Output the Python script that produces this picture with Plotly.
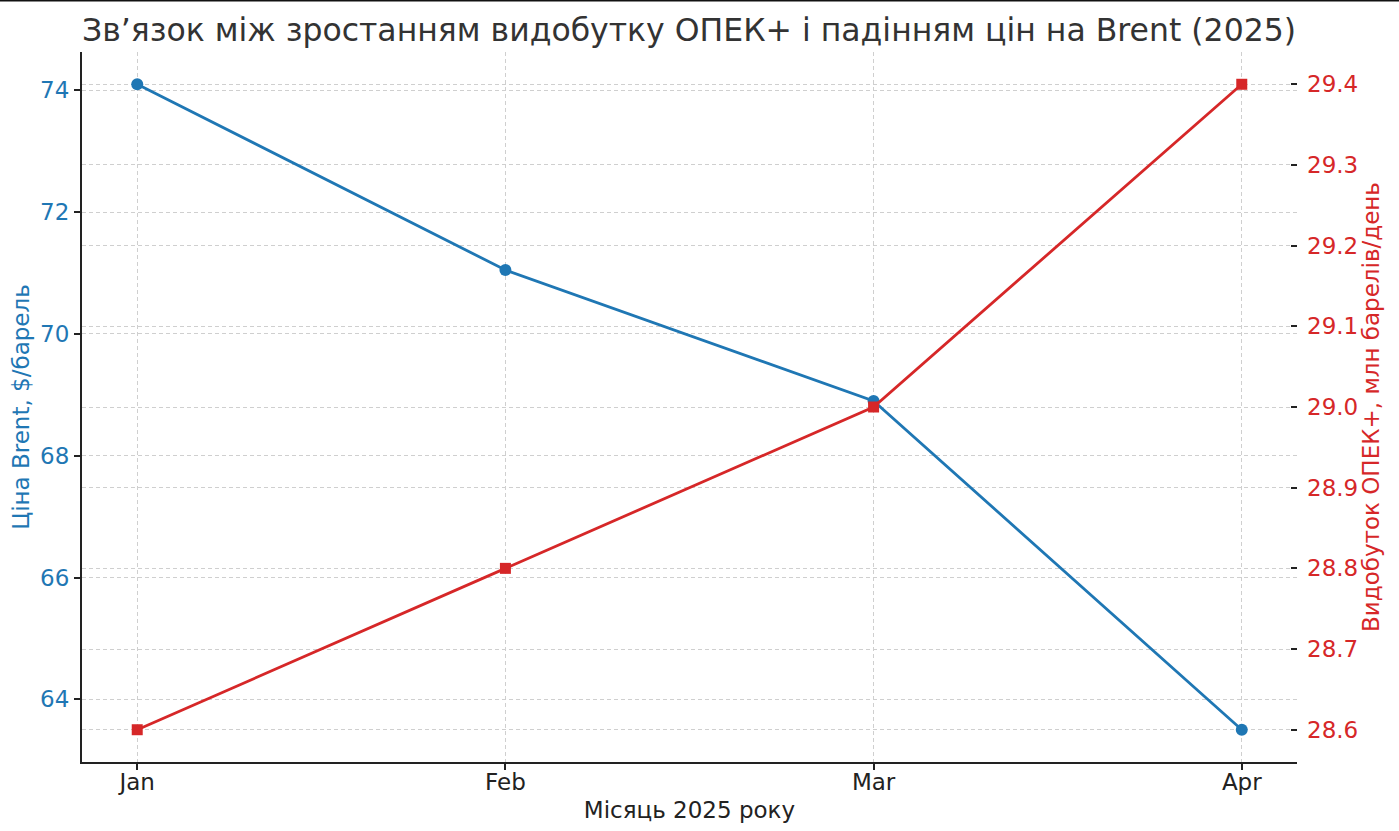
import plotly.graph_objects as go

months = ["Jan", "Feb", "Mar", "Apr"]
brent = [74.1, 71.05, 68.9, 63.5]
opec = [28.6, 28.8, 29.0, 29.4]
left_ticks = [64, 66, 68, 70, 72, 74]
right_ticks = [28.6, 28.7, 28.8, 28.9, 29.0, 29.1, 29.2, 29.3, 29.4]

BLUE = "#1f77b4"
RED = "#d62728"
FONT = "DejaVu Sans"

fig = go.Figure()
fig.add_trace(go.Scatter(
    x=list(range(len(months))), y=brent, mode="lines+markers",
    line=dict(color=BLUE, width=2.8),
    marker=dict(symbol="circle", size=12, color=BLUE),
    yaxis="y", showlegend=False,
))
fig.add_trace(go.Scatter(
    x=list(range(len(months))), y=opec, mode="lines+markers",
    line=dict(color=RED, width=2.8),
    marker=dict(symbol="square", size=11, color=RED),
    yaxis="y2", showlegend=False,
))

grid = dict(showgrid=True, gridcolor="#cfcfcf", gridwidth=1, griddash="4px,3px")

fig.update_layout(
    width=1399, height=831,
    margin=dict(l=82, r=102, t=52, b=69, autoexpand=False),
    paper_bgcolor="white", plot_bgcolor="white",
    font=dict(family=FONT, size=23, color="#222222"),
    title=dict(
        text="Зв’язок між зростанням видобутку ОПЕК+ і падінням цін на Brent (2025)",
        x=82 / 1399, xanchor="left", y=1 - 30 / 831, yanchor="middle",
        font=dict(family=FONT, size=31.5, color="#333333"),
    ),
    xaxis=dict(
        range=[-0.15, 3.15], tickmode="array",
        tickvals=list(range(len(months))), ticktext=months,
        ticks="outside", ticklen=6, tickwidth=1.5, tickcolor="#222222",
        ticklabelstandoff=-8,
        showline=True, linecolor="#222222", linewidth=2, mirror=False,
        zeroline=False, automargin=False,
        tickfont=dict(size=23, color="#222222"),
        title=dict(text="Місяць 2025 року", font=dict(size=23, color="#222222"), standoff=8),
        **grid,
    ),
    yaxis=dict(
        range=[62.97, 74.63], tickmode="array", tickvals=left_ticks,
        ticks="outside", ticklen=6, tickwidth=1.5, tickcolor="#222222",
        showline=True, linecolor="#222222", linewidth=2,
        zeroline=False, automargin=False,
        tickfont=dict(size=23, color=BLUE),
        title=dict(text="Ціна Brent, $/барель", font=dict(size=23, color=BLUE), standoff=4),
        **grid,
    ),
    yaxis2=dict(
        range=[28.56, 29.44], tickmode="array", tickvals=right_ticks,
        ticktext=[f"{v:.1f}" for v in right_ticks],
        overlaying="y", side="right",
        ticks="inside", ticklen=6, tickwidth=1.5, tickcolor="#222222",
        ticklabelstandoff=9,
        showline=False, zeroline=False, automargin=False,
        tickfont=dict(size=23, color=RED),
        title=dict(text="Видобуток ОПЕК+, млн барелів/день", font=dict(size=23, color=RED), standoff=4),
        **grid,
    ),
    shapes=[dict(
        type="line", xref="paper", yref="paper",
        x0=-82 / 1215, x1=(1399 - 82) / 1215,
        y0=(762 - 0.5) / 710, y1=(762 - 0.5) / 710,
        line=dict(color="#111111", width=2),
    )],
)

fig.write_html("out.html", config={"displayModeBar": False},
               post_script="document.body.style.margin='0';")
